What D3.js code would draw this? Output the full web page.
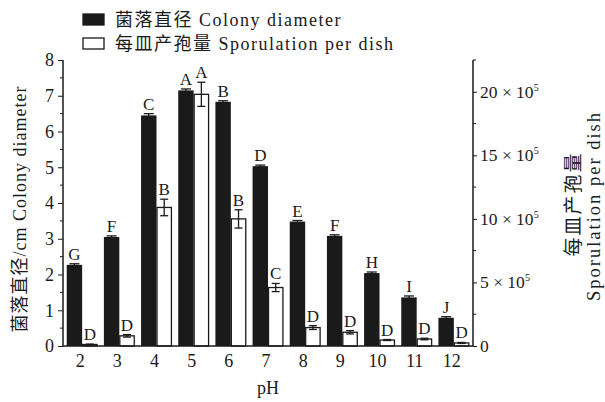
<!DOCTYPE html>
<html>
<head>
<meta charset="utf-8">
<script src="https://cdn.jsdelivr.net/npm/d3@7"></script>
<style>
  body { margin: 0; background: #fff; }
  #chart text { font-family: "Liberation Serif", "Times New Roman", "DejaVu Serif", "Noto Sans CJK SC", serif; fill: #1a1a1a; }
</style>
</head>
<body>
<svg id="chart" width="605" height="402"></svg>
<script>
let WIDTH = 605;
let HEIGHT = 402;

// data
let phs = ['2', '3', '4', '5', '6', '7', '8', '9', '10', '11', '12'];
let diameter = [2.27, 3.05, 6.45, 7.15, 6.83, 5.03, 3.48, 3.08, 2.04, 1.36, 0.79];
let diameterErr = [0.03, 0.03, 0.05, 0.04, 0.03, 0.03, 0.03, 0.03, 0.03, 0.04, 0.03];
let diameterLetters = ['G', 'F', 'C', 'A', 'B', 'D', 'E', 'F', 'H', 'I', 'J'];
let spores = [0.12, 0.8, 10.9, 19.8, 10.0, 4.6, 1.45, 1.08, 0.47, 0.55, 0.24]; // x10^5
let sporesErr = [0.03, 0.1, 0.65, 0.95, 0.72, 0.32, 0.15, 0.13, 0.04, 0.06, 0.04];
let sporesLetters = ['D', 'D', 'B', 'A', 'B', 'C', 'D', 'D', 'D', 'D', 'D'];
let rightTicks = [0, 5, 10, 15, 20];

let plotLeft = 63, plotRight = 473, plotTop = 60, plotBottom = 346;

let svg = d3.select('#chart');

let xScale = d3.scaleBand()
  .domain(phs)
  .range([plotLeft, plotRight])
  .paddingInner(0.17)
  .paddingOuter(0.1);
let sub = d3.scaleBand()
  .domain(['d', 's'])
  .range([0, xScale.bandwidth()]);

let yLeft = d3.scaleLinear().domain([0, 8]).range([plotBottom, plotTop]);
let yRight = d3.scaleLinear().domain([0, 22.5]).range([plotBottom, plotTop]);

// bars
let groups = svg.append('g').selectAll('g')
  .data(phs)
  .join('g')
    .attr('transform', d => 'translate(' + xScale(d) + ',0)');

groups.append('rect')
  .attr('x', sub('d'))
  .attr('width', sub.bandwidth())
  .attr('y', (d, i) => yLeft(diameter[i]))
  .attr('height', (d, i) => plotBottom - yLeft(diameter[i]))
  .attr('fill', '#1a1a1a');

groups.append('rect')
  .attr('x', sub('s') + 0.5)
  .attr('width', sub.bandwidth() - 1)
  .attr('y', (d, i) => yRight(spores[i]))
  .attr('height', (d, i) => plotBottom - yRight(spores[i]))
  .attr('fill', '#fff')
  .attr('stroke', '#1a1a1a')
  .attr('stroke-width', 1.3);

// error bars
let errBar = function (g, cx, y0, y1, half) {
  g.append('line').attr('x1', cx).attr('x2', cx).attr('y1', y0).attr('y2', y1);
  g.append('line').attr('x1', cx - half).attr('x2', cx + half).attr('y1', y0).attr('y2', y0);
  g.append('line').attr('x1', cx - half).attr('x2', cx + half).attr('y1', y1).attr('y2', y1);
}
groups.each(function (d, i) {
  let g = d3.select(this).append('g').attr('stroke', '#1a1a1a').attr('stroke-width', 1.3);
  let cd = sub('d') + sub.bandwidth() / 2;
  let cs = sub('s') + sub.bandwidth() / 2;
  errBar(g, cd, yLeft(diameter[i] + diameterErr[i]), yLeft(diameter[i] - diameterErr[i]), 5);
  errBar(g, cs, yRight(spores[i] + sporesErr[i]), yRight(spores[i] - sporesErr[i]), 4);
});

// significance letters
groups.append('text')
  .attr('x', sub('d') + sub.bandwidth() / 2)
  .attr('y', (d, i) => yLeft(diameter[i] + diameterErr[i]) - 4)
  .attr('text-anchor', 'middle')
  .attr('font-size', 17)
  .text((d, i) => diameterLetters[i]);
groups.append('text')
  .attr('x', sub('s') + sub.bandwidth() / 2)
  .attr('y', (d, i) => yRight(spores[i] + sporesErr[i]) - 4)
  .attr('text-anchor', 'middle')
  .attr('font-size', 17)
  .text((d, i) => sporesLetters[i]);

// axes
let leftAxis = d3.axisLeft(yLeft).ticks(8).tickSize(5).tickPadding(4);
let gl = svg.append('g').attr('transform', 'translate(' + plotLeft + ',0)').call(leftAxis);
gl.attr('font-family', null).selectAll('text').attr('font-size', 18);
gl.append('g').selectAll('line')
  .data(d3.range(0.5, 8, 1))
  .join('line')
    .attr('x1', -3).attr('x2', 0)
    .attr('y1', d => yLeft(d)).attr('y2', d => yLeft(d))
    .attr('stroke', '#1a1a1a');

let rightAxis = d3.axisRight(yRight).tickValues(rightTicks).tickSize(4).tickPadding(3).tickFormat('');
let gr = svg.append('g').attr('transform', 'translate(' + plotRight + ',0)').call(rightAxis);
gr.attr('font-family', null);
gr.append('g').selectAll('line')
  .data([2.5, 7.5, 12.5, 17.5, 22.5])
  .join('line')
    .attr('x1', 0).attr('x2', 3)
    .attr('y1', d => yRight(d)).attr('y2', d => yRight(d))
    .attr('stroke', '#1a1a1a');
let rl = gr.append('g').selectAll('text')
  .data(rightTicks)
  .join('text')
    .attr('x', 7)
    .attr('y', d => yRight(d) + 6)
    .attr('font-size', 17.5);
rl.each(function (d) {
  let t = d3.select(this);
  if (d === 0) { t.text('0'); return; }
  t.append('tspan').text(d + ' × 10');
  t.append('tspan').attr('dy', -7).attr('font-size', 10).text('5');
});

let bottomAxis = d3.axisBottom(xScale).tickSize(0).tickPadding(8);
let gb = svg.append('g').attr('transform', 'translate(0,' + plotBottom + ')').call(bottomAxis);
gb.attr('font-family', null).selectAll('text').attr('font-size', 18).attr('dx', -2);

svg.selectAll('.domain').attr('stroke', '#1a1a1a').attr('stroke-width', 1.5);
svg.selectAll('.tick line').attr('stroke', '#1a1a1a');
gl.select('.domain').attr('d', 'M0,' + plotTop + 'V' + plotBottom);
gr.select('.domain').attr('d', 'M0,' + plotTop + 'V' + plotBottom);
gb.select('.domain').attr('d', 'M' + plotLeft + ',0H' + plotRight);

// axis titles
svg.append('text')
  .attr('transform', 'translate(26,' + ((plotTop + plotBottom) / 2 + 6) + ') rotate(-90)')
  .attr('text-anchor', 'middle')
  .attr('font-size', 18)
  .attr('letter-spacing', 1)
  .text('菌落直径/cm Colony diameter');
svg.append('text')
  .attr('transform', 'translate(580,' + 204 + ') rotate(-90)')
  .attr('text-anchor', 'middle')
  .attr('font-size', 19)
  .attr('letter-spacing', 2)
  .text('每皿产孢量');
svg.append('text')
  .attr('transform', 'translate(600,' + 206 + ') rotate(-90)')
  .attr('text-anchor', 'middle')
  .attr('font-size', 18.5)
  .attr('letter-spacing', 2)
  .text('Sporulation per dish');
svg.append('text')
  .attr('x', 268).attr('y', 394)
  .attr('text-anchor', 'middle')
  .attr('font-size', 18)
  .text('pH');

// legend
let legend = [
  { label: '菌落直径 Colony diameter', fill: '#1a1a1a' },
  { label: '每皿产孢量 Sporulation per dish', fill: '#fff' }
];
let lg = svg.append('g').selectAll('g')
  .data(legend)
  .join('g')
    .attr('transform', (d, i) => 'translate(83,' + (14 + i * 24) + ')');
lg.append('rect')
  .attr('width', 21).attr('height', 11)
  .attr('fill', d => d.fill)
  .attr('stroke', '#1a1a1a').attr('stroke-width', 1.3);
lg.append('text')
  .attr('x', 32).attr('y', 12)
  .attr('font-size', 18)
  .attr('letter-spacing', 1.5)
  .text(d => d.label);
</script>
</body>
</html>
